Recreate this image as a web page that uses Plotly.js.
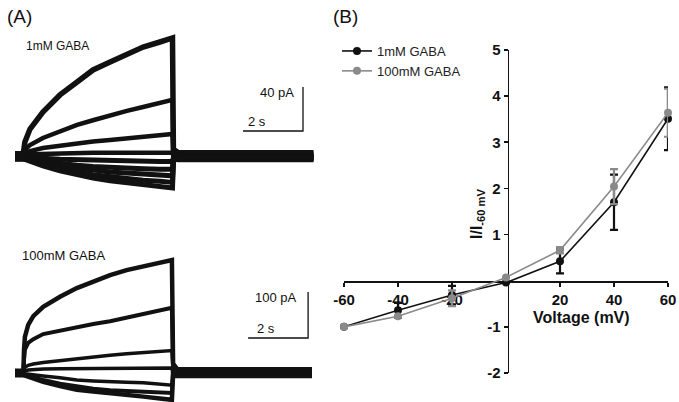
<!DOCTYPE html>
<html>
<head>
<meta charset="utf-8">
<script src="https://cdn.plot.ly/plotly-3.0.1.min.js"></script>
<style>html,body{margin:0;padding:0;background:#fff;}#chart{width:679px;height:402px;}</style>
</head>
<body>
<div id="chart"></div>
<script>
// ---------- Panel A, 1 mM GABA: time (s) and current (pA) ----------
const time1mM = [0, 0.27, 0.33, 0.5, 0.93, 1.5, 2.07, 2.6, 3.17, 3.73, 4.27, 4.83, 5.25, 5.28, 5.45, 9.95];
const cur1mM_a = [1, 1, 12.7, 24.5, 40, 55.5, 67.3, 78.2, 85.5, 92.7, 99, 103.6, 107.3, 6, 3, 3];
const cur1mM_b = [2.5, 2.5, 5.5, 10, 16.4, 22.7, 28.2, 32.5, 37.3, 41, 44.5, 48, 51, 4, 2, 2];
const cur1mM_c = [-1, -1, 2.7, 4.5, 7.3, 9.5, 11.8, 13.2, 14.5, 16, 17.3, 18.7, 20, 2, 0.5, 0.5];
const cur1mM_d = [0, 0, 1, 1.5, 2, 2.5, 3, 3, 3, 3, 3, 3, 3, 0, -1, -1];
const cur1mM_e = [-2.5, -2.5, -1, -1, -2, -3, -3.5, -4, -4.5, -4.5, -5, -5, -5, -2, -2.5, -2.5];
const cur1mM_f = [-3, -3, -2, -3, -5, -7, -8.5, -9.5, -10.5, -11, -11.5, -12, -12, -3, -3.5, -3.5];
const cur1mM_g = [-1.5, -1.5, -2, -3.5, -6, -9, -11, -13, -14.5, -15.5, -16.5, -17.5, -18, -3, -2, -2];
const cur1mM_h = [0.5, 0.5, -2, -4, -7.5, -11.5, -14.5, -17, -19, -20.5, -22, -23, -24, -2, -1, -1];
const cur1mM_i = [-1, -1, -3, -5, -9, -13.5, -17, -20, -22.5, -24.5, -26.5, -28, -29, -4, -1.5, -1.5];
const scale1mM_t = [7.6, 9.6, 9.6];
const scale1mM_pA = [22.7, 22.7, 62.7];

// ---------- Panel A, 100 mM GABA ----------
const time100mM = [0, 0.28, 0.3, 0.33, 0.44, 0.61, 0.94, 1.5, 2.06, 2.61, 3.17, 3.72, 4.28, 4.83, 5.23, 5.27, 5.45, 9.9];
const cur100mM_a = [0, 0, 49, 78, 104, 123, 143, 165, 184, 199, 212, 223, 232, 240, 245, 20, 4, 4];
const cur100mM_b = [5, 5, 28, 50, 65, 73, 84, 92, 98, 106, 112, 120, 128, 135, 141, 10, 8, 8];
const cur100mM_c = [0, 0, 8, 12, 16, 19, 22, 26, 31, 35, 38, 41, 43, 46, 48, 4, 0, 0];
const cur100mM_d = [-4, -4, 2, 4, 6, 7, 8, 8.5, 9, 9, 9.5, 9.5, 10, 10, 10, -4, -4, -4];
const cur100mM_e = [0, 0, -1, -2, -3, -5, -7, -11, -16, -18, -20, -21, -22, -24, -27, -8, -8, -8];
const cur100mM_f = [-6, -6, -3, -5, -8, -11, -16, -24, -30, -35, -38, -40, -41, -43, -44, 6, 2, 2];
const cur100mM_g = [-2, -2, -4, -6, -9, -13, -20, -29, -37, -41, -44, -48, -52, -56, -59, -2, -2, -2];
const scale100mM_t = [7.77, 9.77, 9.77];
const scale100mM_pA = [75.4, 75.4, 175.4];

// ---------- Panel B: I-V relation ----------
const voltage = [-60, -40, -20, 0, 20, 40, 60];
const iv1mM = [-1, -0.64, -0.31, -0.04, 0.42, 1.70, 3.51];
const iv1mM_err = [0, 0.16, 0.2, 0, 0.26, 0.6, 0.68];
const iv100mM = [-1, -0.77, -0.38, 0.07, 0.66, 2.04, 3.64];
const iv100mM_err = [0, 0.02, 0.17, 0, 0.07, 0.38, 0.52];
const xTickVals = [-60, -40, -20, 20, 40, 60];
const xTickText = ['-60', '-40', '-20', '20', '40', '60'];
const yTickVals = [-2, -1, 1, 2, 3, 4, 5];
const yTickText = ['-2', '-1', '1', '2', '3', '4', '5'];

const FONT = 'Liberation Sans, Arial, Helvetica, sans-serif';
const INK = '#111111';
const GREY = '#8a8a8a';

function rec(x, y, xa, ya, w) {
  return {x: x, y: y, xaxis: xa, yaxis: ya, type: 'scatter', mode: 'lines',
    line: {color: INK, width: w}, showlegend: false, hoverinfo: 'skip'};
}
function bar(x, y, xa, ya) {
  return {x: x, y: y, xaxis: xa, yaxis: ya, type: 'scatter', mode: 'lines',
    line: {color: INK, width: 1.3}, showlegend: false, hoverinfo: 'skip'};
}
function bold(list) { return list.map(function (s) { return '<b>' + s + '</b>'; }); }

const data = [];
[[cur1mM_a, 5.5], [cur1mM_b, 4.5], [cur1mM_c, 4.5], [cur1mM_d, 4.5], [cur1mM_e, 5],
 [cur1mM_f, 5], [cur1mM_g, 5], [cur1mM_h, 5], [cur1mM_i, 5]].forEach(function (p) {
  data.push(rec(time1mM, p[0], 'x', 'y', p[1]));
});
data.push(bar(scale1mM_t, scale1mM_pA, 'x', 'y'));
[[cur100mM_a, 4.5], [cur100mM_b, 4], [cur100mM_c, 3.5], [cur100mM_d, 3.5],
 [cur100mM_e, 3.5], [cur100mM_f, 4], [cur100mM_g, 4.5]].forEach(function (p) {
  data.push(rec(time100mM, p[0], 'x2', 'y2', p[1]));
});
data.push(bar(scale100mM_t, scale100mM_pA, 'x2', 'y2'));

data.push({
  x: voltage, y: iv1mM, xaxis: 'x3', yaxis: 'y3', type: 'scatter', mode: 'lines+markers',
  name: '1mM GABA', cliponaxis: false,
  line: {color: INK, width: 1.6}, marker: {color: INK, size: 8},
  error_y: {type: 'data', array: iv1mM_err, visible: true, color: INK, thickness: 2.2, width: 4}
});
data.push({
  x: voltage, y: iv100mM, xaxis: 'x3', yaxis: 'y3', type: 'scatter', mode: 'lines+markers',
  name: '100mM GABA', cliponaxis: false,
  line: {color: GREY, width: 1.6}, marker: {color: GREY, size: 8},
  error_y: {type: 'data', array: iv100mM_err, visible: true, color: GREY, thickness: 2.2, width: 4}
});

const W = 679, H = 402;
function px(v) { return v / W; }
function py(v) { return 1 - v / H; }

const hidden = {visible: false, fixedrange: true, showgrid: false, zeroline: false};

const layout = {
  width: W, height: H,
  margin: {l: 0, r: 0, t: 0, b: 0, pad: 0},
  paper_bgcolor: '#ffffff', plot_bgcolor: 'rgba(0,0,0,0)',
  font: {family: FONT, color: INK},
  showlegend: true,
  legend: {x: px(337), y: py(36), xanchor: 'left', yanchor: 'top', bgcolor: 'rgba(0,0,0,0)',
           font: {family: FONT, size: 13, color: '#222'}, tracegroupgap: 0, itemwidth: 30},
  xaxis: Object.assign({}, hidden, {domain: [px(15), px(315)], range: [0, 10], anchor: 'y'}),
  yaxis: Object.assign({}, hidden, {domain: [py(200), py(20)], range: [-40, 123.6], anchor: 'x'}),
  xaxis2: Object.assign({}, hidden, {domain: [px(15), px(315)], range: [0, 10], anchor: 'y2'}),
  yaxis2: Object.assign({}, hidden, {domain: [0, py(240)], range: [-63.7, 288.5], anchor: 'x2'}),
  xaxis3: {
    domain: [px(344), px(668)], range: [-60, 60], anchor: 'free', position: py(281),
    showline: true, linecolor: INK, linewidth: 1.7, showgrid: false, zeroline: false,
    ticks: 'outside', ticklen: 4, tickwidth: 1.7, tickcolor: INK,
    tickvals: xTickVals, ticktext: bold(xTickText), layer: 'below traces',
    tickfont: {family: FONT, size: 15, color: INK}, fixedrange: true
  },
  yaxis3: {
    domain: [py(373), py(50)], range: [-2, 5], anchor: 'free', position: px(507.5),
    showline: true, linecolor: INK, linewidth: 1.7, showgrid: false, zeroline: false,
    ticks: 'outside', ticklen: 4, tickwidth: 1.7, tickcolor: INK,
    tickvals: yTickVals, ticktext: bold(yTickText), layer: 'below traces',
    tickfont: {family: FONT, size: 15, color: INK}, fixedrange: true
  },
  annotations: [
    {text: '(A)', x: px(5), y: py(17), xref: 'paper', yref: 'paper', xanchor: 'left', yanchor: 'middle',
     showarrow: false, font: {family: FONT, size: 19, color: INK}},
    {text: '(B)', x: px(331), y: py(16), xref: 'paper', yref: 'paper', xanchor: 'left', yanchor: 'middle',
     showarrow: false, font: {family: FONT, size: 19, color: INK}},
    {text: '1mM GABA', x: px(24), y: py(46), xref: 'paper', yref: 'paper', xanchor: 'left', yanchor: 'middle',
     showarrow: false, font: {family: FONT, size: 12, color: INK}},
    {text: '100mM GABA', x: px(20), y: py(255), xref: 'paper', yref: 'paper', xanchor: 'left', yanchor: 'middle',
     showarrow: false, font: {family: FONT, size: 13, color: INK}},
    {text: '40 pA', x: px(296), y: py(92), xref: 'paper', yref: 'paper', xanchor: 'right', yanchor: 'middle',
     showarrow: false, font: {family: FONT, size: 13, color: INK}},
    {text: '2 s', x: px(246), y: py(121), xref: 'paper', yref: 'paper', xanchor: 'left', yanchor: 'middle',
     showarrow: false, font: {family: FONT, size: 13, color: INK}},
    {text: '100 pA', x: px(299), y: py(297), xref: 'paper', yref: 'paper', xanchor: 'right', yanchor: 'middle',
     showarrow: false, font: {family: FONT, size: 13, color: INK}},
    {text: '2 s', x: px(255), y: py(328), xref: 'paper', yref: 'paper', xanchor: 'left', yanchor: 'middle',
     showarrow: false, font: {family: FONT, size: 13, color: INK}},
    {text: '<b>Voltage (mV)</b>', x: px(581), y: py(317), xref: 'paper', yref: 'paper', xanchor: 'center', yanchor: 'middle',
     showarrow: false, font: {family: FONT, size: 16, color: INK}},
    {text: '<b>I/I<sub>-60 mV</sub></b>', x: px(477), y: py(213), xref: 'paper', yref: 'paper', xanchor: 'center', yanchor: 'middle',
     textangle: -90, showarrow: false, font: {family: FONT, size: 16, color: INK}}
  ]
};

Plotly.newPlot('chart', data, layout, {displayModeBar: false, staticPlot: true});
</script>
</body>
</html>
